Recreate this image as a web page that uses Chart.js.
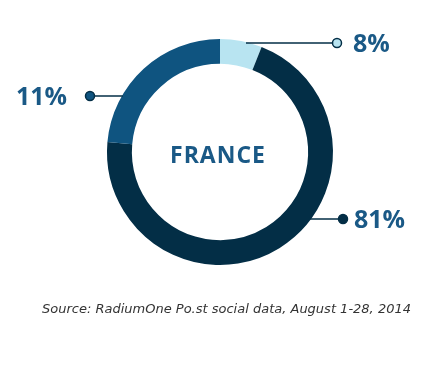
<!DOCTYPE html>
<html>
<head>
<meta charset="utf-8">
<script src="https://cdn.jsdelivr.net/npm/chart.js@4"></script>
<style>
  html, body { margin: 0; padding: 0; background: #fff; }
  #wrap { position: relative; width: 440px; height: 372px; }
</style>
</head>
<body>
<div id="wrap"><canvas id="c" width="440" height="372"></canvas></div>
<script>
// shares as drawn in the ring (clockwise from top), and the labels shown
const segments = ["Light", "Dark", "Mid"];
const arcShares = [6, 70.4, 23.6];
const labelTexts = ["8%", "81%", "11%"];
const colors = ["#b8e4f1", "#032e46", "#0f5480"];
const centerTitle = "FRANCE";
const sourceNote = "Source: RadiumOne Po.st social data, August 1-28, 2014";

// callout layout: y of line, x of dot, text anchor x
const callouts = [
  { y: 43, dotX: 337, startX: 246, textX: 353, align: "left" },
  { y: 219, dotX: 343, startX: null, textX: 354, align: "left" },
  { y: 96, dotX: 90, startX: null, textX: 67, align: "right" }
];

const textColor = "#1a5986";

const overlay = {
  id: "overlay",
  afterDraw(chart) {
    const ctx = chart.ctx;
    const arc = chart.getDatasetMeta(0).data[0];
    const cx = arc.x, cy = arc.y, r = arc.outerRadius;
    ctx.save();
    callouts.forEach((c, i) => {
      const dy = c.y - cy;
      const dx = Math.sqrt(Math.max(r * r - dy * dy, 0));
      const sx = c.startX != null ? c.startX : (c.dotX > cx ? cx + dx - 1 : cx - dx + 1);
      ctx.strokeStyle = "#032e46";
      ctx.lineWidth = 1.5;
      ctx.beginPath();
      ctx.moveTo(sx, c.y);
      ctx.lineTo(c.dotX, c.y);
      ctx.stroke();
      ctx.beginPath();
      ctx.arc(c.dotX, c.y, 4.5, 0, Math.PI * 2);
      ctx.fillStyle = colors[i];
      ctx.fill();
      ctx.lineWidth = 1.5;
      ctx.stroke();
      ctx.fillStyle = textColor;
      ctx.font = "bold 25px 'Open Sans'";
      ctx.textBaseline = "middle";
      ctx.textAlign = c.align;
      ctx.fillText(labelTexts[i], c.textX, c.y + 2);
    });
    ctx.fillStyle = textColor;
    ctx.font = "bold 23px 'Open Sans'";
    ctx.letterSpacing = "1px";
    ctx.textAlign = "center";
    ctx.textBaseline = "middle";
    ctx.fillText(centerTitle, cx - 2, cy + 4);
    ctx.letterSpacing = "0px";

    ctx.fillStyle = "#333";
    ctx.font = "italic 13px 'DejaVu Sans'";
    ctx.textAlign = "left";
    ctx.textBaseline = "alphabetic";
    ctx.fillText(sourceNote, 42, 313);
    ctx.restore();
  }
};

new Chart(document.getElementById("c"), {
  type: "doughnut",
  data: {
    labels: segments,
    datasets: [{
      data: arcShares,
      backgroundColor: colors,
      borderWidth: 0
    }]
  },
  options: {
    responsive: false,
    animation: false,
    cutout: "78%",
    layout: { padding: { top: 39, bottom: 107, left: 107, right: 107 } },
    plugins: {
      legend: { display: false },
      tooltip: { enabled: false }
    }
  },
  plugins: [overlay]
});
</script>
</body>
</html>
